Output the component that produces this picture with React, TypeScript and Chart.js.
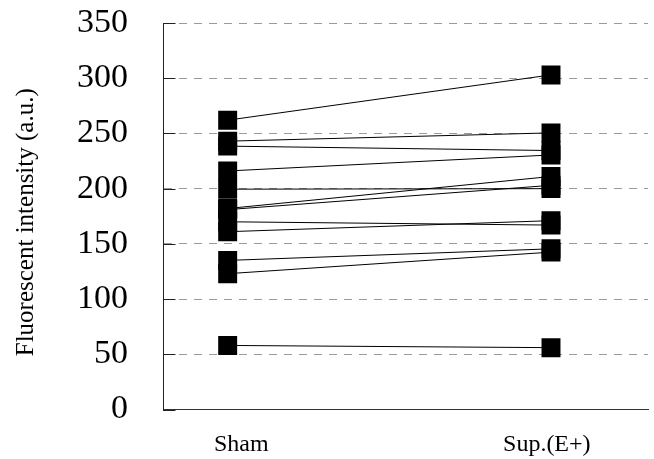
import React, { useEffect, useRef } from "react";
import { Chart, registerables } from "chart.js";

Chart.register(...registerables);

const categories = ["Sham", "Sup.(E+)"];
const categoryX = [0, 1];
const labelX = [0.042, 0.987];
const shamValues = [262, 243, 238.5, 216, 199.5, 182, 181, 170, 161, 135, 123, 58];
const supValues = [303, 250.5, 234.5, 230.5, 200, 211, 203, 167, 171, 145.5, 142.5, 56];
const yTicks = [0, 50, 100, 150, 200, 250, 300, 350];
const yTitle = "Fluorescent intensity (a.u.)";

const FONT = "'Liberation Serif', 'Times New Roman', serif";

const decorations = {
  id: "decorations",
  afterDraw(chart: any) {
    const { ctx, chartArea, scales } = chart;
    const y = scales.y;
    ctx.save();
    ctx.strokeStyle = "#222";
    ctx.lineWidth = 1;
    yTicks.forEach((v) => {
      const py = Math.round(y.getPixelForValue(v)) + 0.5;
      ctx.beginPath();
      ctx.moveTo(chartArea.left, py);
      ctx.lineTo(chartArea.left + 12.5, py);
      ctx.stroke();
    });
    // y-axis title
    ctx.translate(26, (chartArea.top + chartArea.bottom) / 2 + 6);
    ctx.rotate(-Math.PI / 2);
    ctx.fillStyle = "#000";
    ctx.font = `25px ${FONT}`;
    ctx.textAlign = "center";
    ctx.textBaseline = "middle";
    ctx.fillText(yTitle, 0, 0);
    ctx.restore();
  },
};

export default function App() {
  const ref = useRef<HTMLCanvasElement>(null);
  useEffect(() => {
    if (!ref.current) return;
    const lineSets = shamValues.map((s, i) => ({
      type: "line" as const,
      data: [
        { x: categoryX[0], y: s },
        { x: categoryX[1], y: supValues[i] },
      ],
      borderColor: "#000",
      borderWidth: 1,
      pointRadius: 0,
      fill: false,
      order: 2,
    }));
    const points = [
      ...shamValues.map((v) => ({ x: categoryX[0], y: v })),
      ...supValues.map((v) => ({ x: categoryX[1], y: v })),
    ];
    const chart = new Chart(ref.current, {
      type: "scatter",
      data: {
        datasets: [
          {
            type: "scatter",
            data: points,
            pointStyle: "rect",
            pointRadius: 13.4,
            backgroundColor: "#000",
            borderColor: "#000",
            borderWidth: 0,
            order: 0,
          } as any,
          ...lineSets,
        ],
      },
      options: {
        animation: false,
        responsive: false,
        maintainAspectRatio: false,
        layout: { autoPadding: false, padding: { left: 0, right: 6, top: 23, bottom: 0 } },
        plugins: { legend: { display: false }, tooltip: { enabled: false } },
        scales: {
          x: {
            type: "linear",
            min: -0.2,
            max: 1.3,
            afterBuildTicks: (s: any) => {
              s.ticks = labelX.map((v) => ({ value: v }));
            },
            afterFit: (s: any) => {
              s.height = 49.5;
              s.paddingLeft = 0;
              s.paddingRight = 0;
            },
            ticks: {
              autoSkip: false,
              maxRotation: 0,
              padding: 21,
              color: "#000",
              font: { family: FONT, size: 24 },
              callback: (_v: any, i: number) => categories[i],
            },
            grid: { display: false, drawTicks: false },
            border: { display: true, color: "#333", width: 1 },
          },
          y: {
            min: 0,
            max: 350,
            afterBuildTicks: (s: any) => {
              s.ticks = yTicks.map((v) => ({ value: v }));
            },
            afterFit: (s: any) => {
              s.width = 163;
              s.paddingTop = 0;
              s.paddingBottom = 0;
            },
            ticks: {
              padding: 35,
              color: "#000",
              font: { family: FONT, size: 34 },
            },
            grid: { color: "#9a9a9a", lineWidth: 1, drawTicks: false },
            border: { display: true, color: "#222", width: 1, dash: [8, 7] },
          },
        },
      },
      plugins: [decorations],
    });
    return () => chart.destroy();
  }, []);
  return (
    <div style={{ position: "absolute", left: 0, top: 0, width: 654, height: 459, background: "#fff" }}>
      <canvas ref={ref} width={654} height={459} style={{ width: 654, height: 459 }} />
    </div>
  );
}
